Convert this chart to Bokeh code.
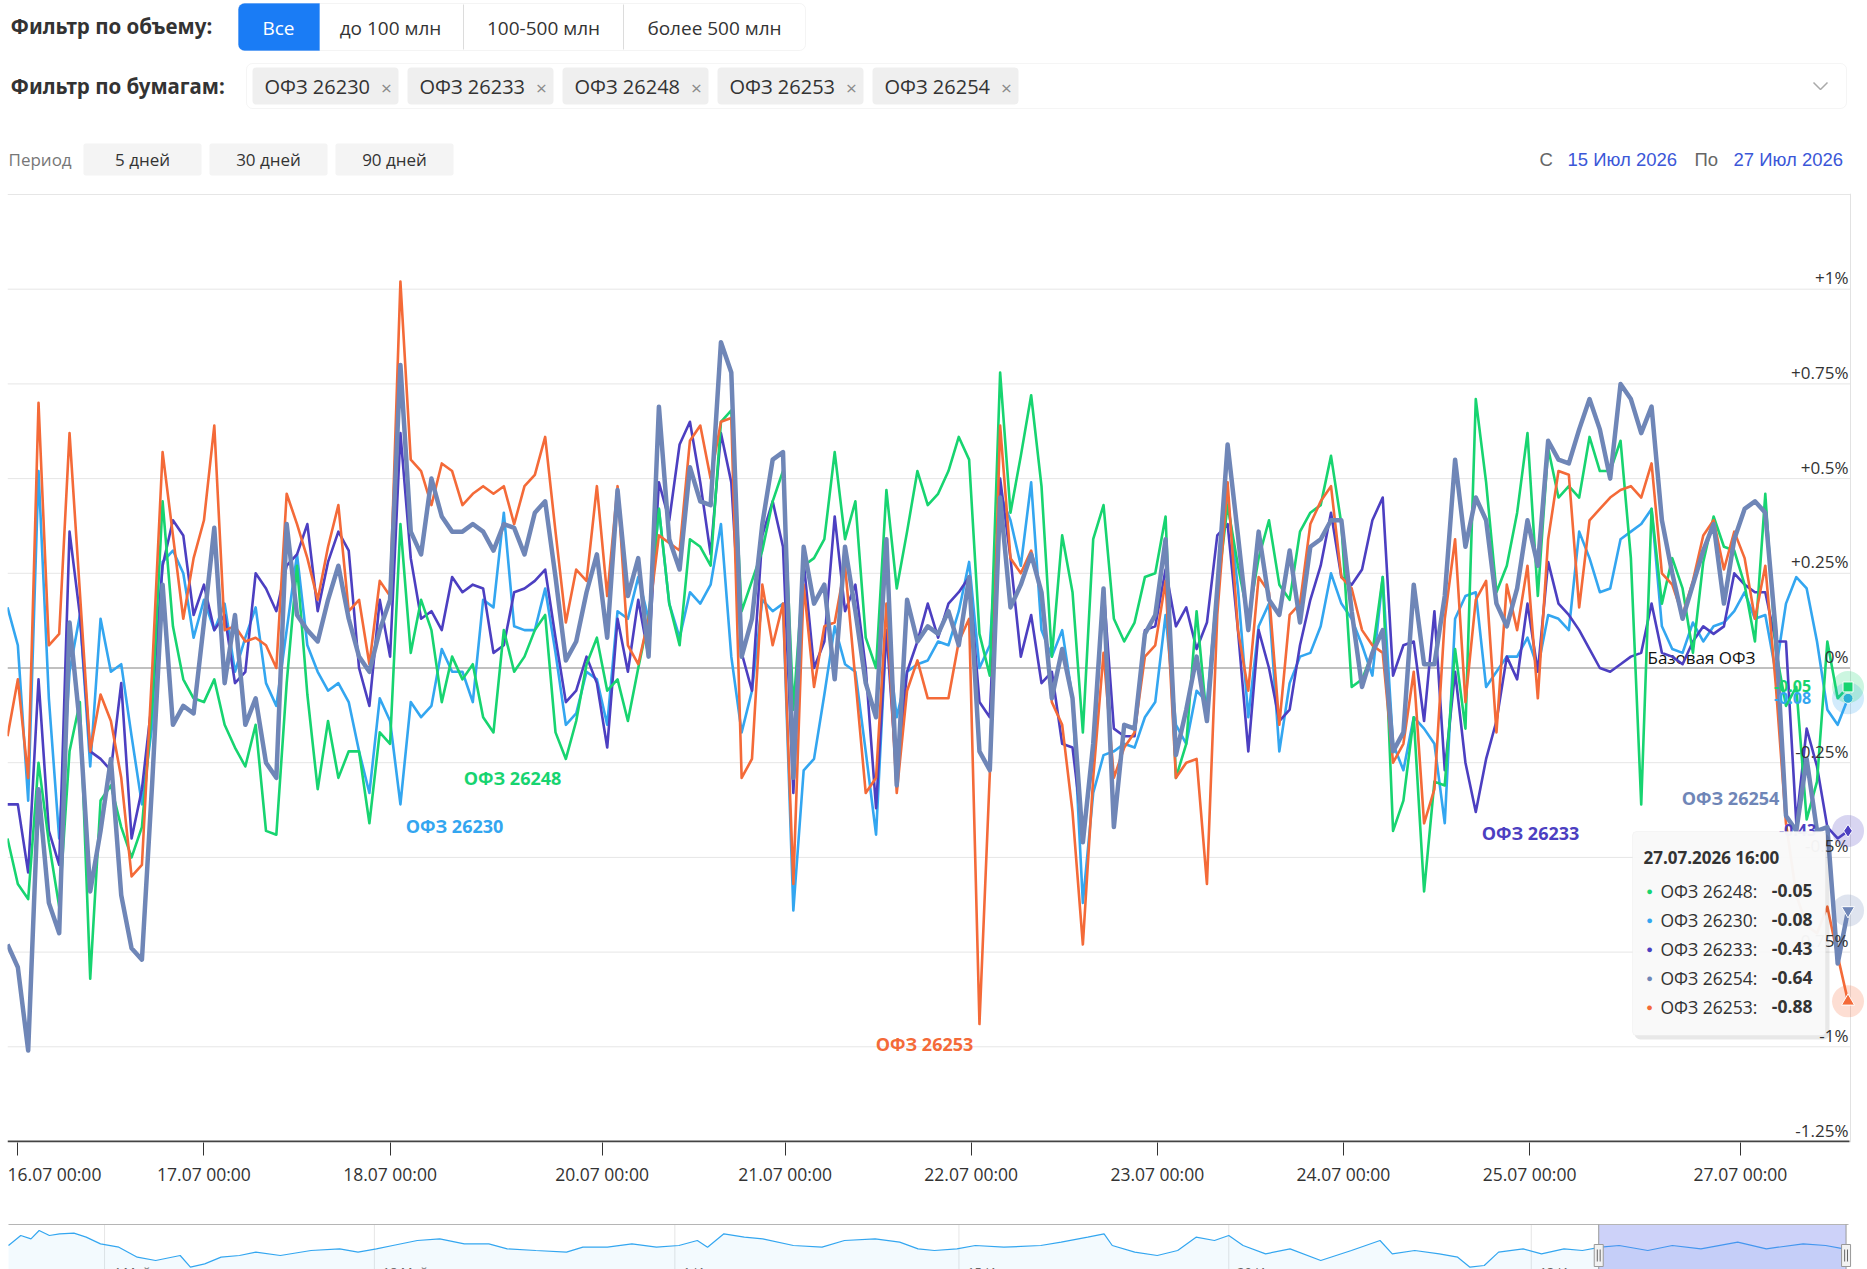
from bokeh.plotting import figure
from bokeh.models import Range1d, BoxAnnotation, Label, FixedTicker, LinearAxis
from bokeh.layouts import column
from bokeh.embed import file_html
from bokeh.resources import INLINE
from bokeh.core.properties import value

# ---------------- data ----------------
volume_filters = ["Все", "до 100 млн", "100-500 млн", "более 500 млн"]
selected_bonds = ["ОФЗ 26230", "ОФЗ 26233", "ОФЗ 26248", "ОФЗ 26253", "ОФЗ 26254"]
period_buttons = ["5 дней", "30 дней", "90 дней"]
date_from = "15 Июл 2026"
date_to = "27 Июл 2026"
tooltip_time = "27.07.2026 16:00"

# ordinal x axis (hourly points, weekends compressed): tick positions in point-index units
tick_idx = [1, 19, 37, 57.5, 75.2, 93.2, 111.2, 129.2, 147.2, 167.6]
tick_labels = ["16.07 00:00", "17.07 00:00", "18.07 00:00", "20.07 00:00", "21.07 00:00",
               "22.07 00:00", "23.07 00:00", "24.07 00:00", "25.07 00:00", "27.07 00:00"]

y_ticks = [1.0, 0.75, 0.5, 0.25, 0.0, -0.25, -0.5, -0.75, -1.0, -1.25]
y_tick_labels = ["+1%", "+0.75%", "+0.5%", "+0.25%", "0%", "-0.25%", "-0.5%", "-0.75%", "-1%", "-1.25%"]

ofz_26230 = [
    0.16, 0.06, -0.35, 0.52, -0.08, -0.45, -0.01, 0.14, -0.26, 0.13,
    -0.01, 0.01, -0.18, -0.36, -0.15, 0.28, 0.31, 0.25, 0.08, 0.18,
    0.10, 0.17, -0.01, 0.08, 0.16, -0.04, -0.10, 0.10, 0.30, 0.06,
    -0.01, -0.06, -0.04, -0.09, -0.22, -0.33, -0.08, -0.14, -0.36, -0.09,
    -0.13, -0.10, 0.05, -0.01, -0.01, -0.09, 0.18, 0.16, 0.41, 0.11,
    0.10, 0.10, 0.21, 0.04, -0.15, -0.12, -0.01, -0.03, -0.15, 0.15,
    0.13, 0.24, 0.13, 0.42, 0.17, 0.08, 0.20, 0.17, 0.22, 0.38,
    0.03, -0.17, -0.06, 0.18, 0.15, 0.17, -0.64, -0.27, -0.24, -0.07,
    0.11, 0.01, -0.01, -0.22, -0.44, 0.10, -0.13, -0.01, 0.01, 0.02,
    0.07, 0.06, 0.15, 0.28, 0.00, 0.06, 0.46, 0.39, 0.27, 0.49,
    0.10, 0.03, 0.10, -0.08, -0.62, -0.33, -0.23, -0.22, -0.20, -0.21,
    -0.13, -0.09, 0.14, -0.15, -0.20, -0.06, -0.09, 0.21, 0.45, 0.21,
    -0.13, 0.11, 0.17, -0.22, -0.04, 0.03, 0.04, 0.11, 0.25, 0.17,
    0.13, 0.06, -0.02, 0.24, -0.20, -0.27, -0.13, -0.16, -0.20, -0.41,
    0.13, 0.19, 0.20, -0.05, -0.01, 0.03, 0.03, 0.08, 0.00, 0.14,
    0.13, 0.10, 0.36, 0.29, 0.20, 0.21, 0.34, 0.36, 0.38, 0.42,
    0.11, 0.05, 0.04, 0.12, 0.07, 0.11, 0.12, 0.15, 0.20, 0.13,
    0.14, -0.01, 0.17, 0.24, 0.21, 0.07, -0.11, -0.15, -0.08]

ofz_26233 = [
    -0.36, -0.36, -0.54, -0.03, -0.43, -0.52, 0.36, 0.14, -0.22, -0.24,
    -0.27, -0.04, -0.45, -0.32, -0.08, 0.27, 0.39, 0.35, 0.14, 0.22,
    0.10, 0.14, -0.04, -0.01, 0.25, 0.21, 0.15, 0.27, 0.30, 0.38,
    0.15, 0.28, 0.36, 0.31, 0.00, -0.10, 0.18, 0.03, 0.62, 0.29,
    0.13, 0.15, 0.10, 0.24, 0.20, 0.22, 0.21, 0.04, 0.06, 0.20,
    0.21, 0.23, 0.26, 0.08, -0.09, -0.06, 0.03, -0.04, -0.21, 0.13,
    -0.01, 0.18, 0.03, 0.49, 0.39, 0.59, 0.65, 0.49, 0.30, 0.62,
    0.49, 0.04, -0.06, 0.35, 0.44, 0.32, -0.33, 0.28, 0.00, 0.07,
    0.40, 0.15, 0.22, 0.00, -0.37, 0.10, -0.29, -0.01, 0.07, 0.17,
    0.08, 0.17, 0.20, 0.24, -0.09, -0.13, 0.50, 0.29, 0.03, 0.14,
    -0.04, -0.01, -0.20, -0.21, -0.44, -0.24, 0.21, -0.16, -0.18, -0.18,
    0.10, 0.11, 0.26, 0.11, 0.16, 0.05, 0.12, 0.35, 0.38, 0.10,
    -0.22, 0.10, 0.00, -0.14, -0.11, 0.06, 0.18, 0.27, 0.41, 0.24,
    0.22, 0.26, 0.39, 0.45, -0.02, 0.06, 0.07, -0.14, 0.15, -0.27,
    -0.01, -0.25, -0.38, -0.24, -0.14, 0.03, -0.03, 0.17, -0.01, 0.28,
    0.17, 0.14, 0.10, 0.05, 0.00, -0.01, 0.01, 0.03, 0.04, 0.17,
    0.04, 0.03, 0.01, 0.07, 0.11, 0.09, 0.11, 0.25, 0.22, 0.20,
    0.20, 0.07, 0.07, -0.41, -0.16, -0.26, -0.42, -0.45, -0.43]

ofz_26248 = [
    -0.45, -0.57, -0.61, -0.25, -0.46, -0.63, -0.22, -0.09, -0.82, -0.35,
    -0.31, -0.42, -0.50, -0.42, -0.10, 0.44, 0.11, -0.03, -0.08, -0.09,
    -0.03, -0.15, -0.21, -0.26, -0.15, -0.43, -0.44, -0.04, 0.27, -0.07,
    -0.32, -0.14, -0.29, -0.22, -0.22, -0.41, -0.17, -0.20, 0.38, 0.04,
    0.18, 0.10, -0.09, 0.03, -0.03, 0.01, -0.13, -0.17, 0.10, -0.01,
    0.03, 0.10, 0.14, -0.17, -0.24, -0.14, 0.01, 0.08, -0.06, -0.03,
    -0.14, 0.00, 0.13, 0.42, 0.17, 0.06, 0.34, 0.32, 0.27, 0.65,
    0.68, 0.15, 0.23, 0.31, 0.44, 0.52, -0.11, 0.27, 0.29, 0.34,
    0.57, 0.34, 0.44, 0.08, 0.00, 0.47, 0.21, 0.36, 0.52, 0.43,
    0.46, 0.52, 0.61, 0.55, 0.09, -0.02, 0.78, 0.41, 0.56, 0.72,
    0.48, 0.03, 0.35, 0.20, -0.17, 0.34, 0.43, 0.13, 0.07, 0.12,
    0.24, 0.25, 0.40, -0.29, -0.20, 0.15, -0.14, 0.20, 0.43, 0.27,
    0.13, 0.29, 0.39, 0.22, 0.18, 0.36, 0.41, 0.43, 0.56, 0.38,
    -0.05, -0.03, 0.04, 0.24, -0.43, -0.35, -0.13, -0.59, -0.30, -0.31,
    0.05, -0.16, 0.71, 0.49, 0.20, 0.27, 0.41, 0.62, 0.19, 0.58,
    0.45, 0.48, 0.45, 0.61, 0.52, 0.52, 0.60, 0.29, -0.36, 0.42,
    0.17, 0.29, 0.21, 0.04, 0.28, 0.40, 0.32, 0.31, 0.22, 0.07,
    0.46, 0.05, -0.10, -0.05, -0.40, -0.30, 0.07, -0.08, -0.05]

ofz_26253 = [
    -0.18, -0.03, -0.29, 0.70, 0.06, 0.09, 0.62, 0.20, -0.22, -0.07,
    -0.14, -0.29, -0.55, -0.52, 0.00, 0.57, 0.35, 0.13, 0.29, 0.39,
    0.64, 0.10, 0.11, 0.07, 0.08, 0.06, 0.00, 0.46, 0.38, 0.29,
    0.18, 0.32, 0.43, 0.15, 0.18, 0.01, 0.23, 0.19, 1.02, 0.55,
    0.52, 0.43, 0.54, 0.52, 0.43, 0.46, 0.48, 0.46, 0.48, 0.38,
    0.48, 0.51, 0.61, 0.36, 0.12, 0.26, 0.23, 0.48, 0.19, 0.48,
    0.06, 0.01, 0.13, 0.35, 0.33, 0.31, 0.60, 0.64, 0.50, 0.65,
    0.66, -0.29, -0.24, 0.22, 0.06, 0.17, -0.57, 0.22, -0.05, 0.11,
    0.12, 0.27, -0.03, -0.33, -0.29, 0.17, -0.33, -0.06, 0.02, -0.08,
    -0.08, -0.08, 0.07, 0.13, -0.94, -0.28, 0.64, 0.29, 0.25, 0.31,
    0.20, -0.09, -0.15, -0.38, -0.73, -0.29, 0.04, -0.29, -0.21, -0.17,
    0.03, 0.06, 0.23, -0.29, -0.25, -0.24, -0.57, 0.14, 0.49, 0.10,
    -0.06, 0.24, 0.20, -0.15, 0.14, 0.17, 0.38, 0.44, 0.48, 0.24,
    0.21, 0.10, 0.06, 0.04, -0.25, -0.20, -0.01, -0.41, -0.32, 0.13,
    0.34, -0.09, 0.18, 0.23, -0.17, 0.22, 0.10, 0.27, -0.08, 0.34,
    0.52, 0.51, 0.16, 0.39, 0.42, 0.45, 0.47, 0.48, 0.45, 0.54,
    0.25, 0.22, 0.14, 0.23, 0.35, 0.39, 0.26, 0.36, 0.29, 0.13,
    0.27, -0.04, -0.41, -0.60, -0.68, -0.70, -0.63, -0.76, -0.88]

ofz_26254 = [
    -0.73, -0.79, -1.01, -0.32, -0.62, -0.70, 0.12, -0.15, -0.59, -0.43,
    -0.24, -0.60, -0.74, -0.77, -0.30, 0.22, -0.15, -0.10, -0.12, 0.12,
    0.37, -0.04, 0.14, -0.15, -0.08, -0.25, -0.29, 0.38, 0.14, 0.10,
    0.07, 0.18, 0.27, 0.13, 0.03, -0.01, 0.10, 0.18, 0.80, 0.36,
    0.30, 0.50, 0.40, 0.36, 0.36, 0.38, 0.36, 0.31, 0.38, 0.37,
    0.30, 0.41, 0.44, 0.24, 0.02, 0.07, 0.20, 0.30, 0.08, 0.47,
    0.19, 0.29, 0.03, 0.69, 0.34, 0.26, 0.53, 0.44, 0.43, 0.86,
    0.78, 0.03, 0.13, 0.38, 0.55, 0.57, -0.29, 0.32, 0.17, 0.22,
    -0.03, 0.32, 0.15, -0.04, -0.13, 0.34, -0.31, 0.18, 0.07, 0.11,
    0.09, 0.15, 0.06, 0.24, -0.22, -0.27, 0.45, 0.16, 0.22, 0.30,
    0.20, -0.08, 0.05, -0.08, -0.46, -0.20, 0.21, -0.42, -0.15, -0.16,
    0.09, 0.14, 0.34, -0.23, -0.11, 0.03, -0.14, 0.21, 0.59, 0.35,
    0.10, 0.36, 0.18, 0.14, 0.31, 0.12, 0.32, 0.34, 0.39, 0.39,
    0.15, -0.05, 0.04, 0.10, -0.22, -0.17, 0.22, 0.01, 0.01, 0.19,
    0.55, 0.32, 0.45, 0.39, 0.17, 0.11, 0.21, 0.39, 0.27, 0.60,
    0.55, 0.54, 0.63, 0.71, 0.63, 0.50, 0.75, 0.71, 0.62, 0.69,
    0.39, 0.25, 0.13, 0.22, 0.31, 0.38, 0.17, 0.34, 0.42, 0.44,
    0.41, 0.10, -0.39, -0.43, -0.24, -0.43, -0.42, -0.78, -0.64]

# navigator (90 days, ОФЗ 26230 history, arbitrary units)
nav_day = [0.0, 0.6, 1.1, 1.5, 2.0, 2.5, 3.2, 3.8, 4.5, 5.4,
           6.3, 7.2, 8.4, 8.9, 9.6, 10.4, 11.3, 12.1, 13.3, 14.8,
           16.2, 17.1, 18.0, 18.8, 20.0, 21.1, 22.3, 23.5, 24.4, 25.8,
           27.3, 28.1, 29.3, 30.5, 31.7, 32.8, 33.7, 34.2, 35.0, 36.0,
           36.9, 38.4, 39.8, 40.9, 42.4, 43.6, 44.5, 45.3, 46.4, 47.3,
           48.7, 50.5, 51.5, 52.8, 53.6, 54.0, 55.1, 56.2, 57.2, 58.1,
           59.0, 59.7, 60.4, 61.5, 62.7, 64.2, 65.7, 67.1, 67.7, 68.8,
           70.0, 70.9, 71.5, 72.2, 72.9, 74.1, 75.0, 76.1, 77.0, 77.9,
           78.8, 80.2, 81.4, 82.8, 84.6, 86.0, 87.8, 88.9, 89.8]
nav_val = [0.75, 1.05, 0.95, 1.20, 1.05, 1.10, 1.12, 1.00, 0.80, 0.70,
           0.40, 0.30, 0.45, 0.10, 0.20, 0.40, 0.45, 0.55, 0.45, 0.60,
           0.65, 0.55, 0.65, 0.75, 0.90, 0.95, 0.80, 0.80, 0.65, 0.60,
           0.55, 0.70, 0.70, 0.80, 0.70, 0.75, 0.90, 0.70, 1.10, 1.00,
           0.95, 0.75, 0.70, 0.90, 0.95, 0.85, 0.65, 0.60, 0.65, 0.75,
           0.70, 0.75, 0.85, 1.00, 1.10, 0.75, 0.55, 0.45, 0.60, 1.00,
           0.90, 1.05, 0.75, 0.50, 0.65, 0.30, 0.60, 0.90, 0.50, 0.60,
           0.50, 0.40, 0.10, 0.15, 0.55, 0.65, 0.50, 0.65, 0.60, 0.70,
           0.75, 0.60, 0.75, 0.65, 0.85, 0.65, 0.80, 0.75, 0.65]
nav_tick_days = [4.7, 17.9, 32.6, 46.5, 59.7, 74.5]
nav_tick_labels = ["4 Май", "18 Май", "1 Июн", "15 Июн", "29 Июн", "13 Июл"]
nav_sel_from, nav_sel_to = 77.8, 89.9

# ---------------- styles ----------------
W = 1867
FONT = "Open Sans"
colors = {"ОФЗ 26230": "#33a6f0", "ОФЗ 26233": "#4c3fc1", "ОФЗ 26248": "#17d470",
          "ОФЗ 26253": "#f46a38", "ОФЗ 26254": "#6f86b7"}
series = {"ОФЗ 26230": ofz_26230, "ОФЗ 26233": ofz_26233, "ОФЗ 26248": ofz_26248,
          "ОФЗ 26253": ofz_26253, "ОФЗ 26254": ofz_26254}
markers = {"ОФЗ 26230": "circle", "ОФЗ 26233": "diamond", "ОФЗ 26248": "square",
           "ОФЗ 26253": "triangle", "ОФЗ 26254": "inverted_triangle"}
FRAME_LEFT = 7   # all stacked figures share this frame left edge (column aligns frames)


def T(fig, xs, ys, texts, size, color, bold=False, align="left", baseline="middle", font=FONT, **kw):
    return fig.text(x=xs, y=ys, text=texts, text_font=value(font), text_font_size=f"{size}px",
                    text_color=color, text_align=align, text_baseline=baseline,
                    text_font_style="bold" if bold else "normal", **kw)


# ---------------- header ----------------
hdr = figure(width=W, height=190, x_range=Range1d(FRAME_LEFT, W), y_range=Range1d(190, 0),
             x_axis_type=None, y_axis_type=None, output_backend="svg", toolbar_location=None,
             min_border_left=FRAME_LEFT, min_border_right=0, min_border_top=0, min_border_bottom=0,
             outline_line_color=None)
hdr.grid.visible = False


def box(fig, l, r, t, b, fill, line=None, radius=0, alpha=1.0):
    fig.add_layout(BoxAnnotation(left=l, right=r, top=t, bottom=b, fill_color=fill, fill_alpha=alpha,
                                 line_color=line, line_width=1, border_radius=radius, level="underlay"))


T(hdr, [10], [25], ["Фильтр по объему:"], 20.5, "#333333", bold=True, font="Noto Sans")
box(hdr, 238, 805, 3, 50, "white", "#dcdcdc", 6)
box(hdr, 238, 319, 3, 50, "#1a7cf5", "#1a7cf5", (6, 0, 0, 6))
hdr.segment(x0=[463, 623], y0=[4, 4], x1=[463, 623], y1=[49, 49], line_color="#dcdcdc")
btn_centers = [278, 390, 543, 714]
for i, (cx, lab) in enumerate(zip(btn_centers, volume_filters)):
    T(hdr, [cx], [27], [lab], 19, "white" if i == 0 else "#333333", align="center")

T(hdr, [10], [85], ["Фильтр по бумагам:"], 20.5, "#333333", bold=True, font="Noto Sans")
box(hdr, 246, 1846, 63, 108, "white", "#dedede", 6)
for i, name in enumerate(selected_bonds):
    left = 252 + 155 * i
    box(hdr, left, left + 146, 67, 104, "#efefef", None, 4)
    T(hdr, [left + 12], [86], [name], 20, "#333333")
    T(hdr, [left + 134], [87], ["×"], 19, "#8a8a8a", align="center")
hdr.line(x=[1813, 1820, 1827], y=[82, 89, 82], line_color="#aaaaaa", line_width=1.5)

T(hdr, [8], [159], ["Период"], 17, "#777777")
for i, lab in enumerate(period_buttons):
    left = 83 + 126 * i
    box(hdr, left, left + 118, 143, 175, "#f4f4f4", None, 2)
    T(hdr, [left + 59], [159], [lab], 17, "#333333", align="center")
T(hdr, [1539], [159], ["С"], 18.5, "#666666", font="Liberation Sans")
T(hdr, [1567], [159], [date_from], 18.5, "#3b57d8", font="Liberation Sans")
T(hdr, [1694], [159], ["По"], 18.5, "#666666", font="Liberation Sans")
T(hdr, [1733], [159], [date_to], 18.5, "#3b57d8", font="Liberation Sans")

# ---------------- main chart ----------------
def xi(px):   # page pixel -> ordinal index (for overlay placement only)
    return (px - 7.0) / 10.34


def yv(py):   # page pixel -> percent (for overlay placement only)
    return (667.5 - py) / 378.8


p = figure(width=W, height=1025, x_range=Range1d(xi(FRAME_LEFT), xi(W)), y_range=Range1d(yv(1142), yv(193)),
           y_axis_location=None, output_backend="svg", toolbar_location=None,
           min_border_left=FRAME_LEFT, min_border_right=0, min_border_top=3, min_border_bottom=73,
           outline_line_color=None)
p.grid.visible = False

grid_levels = [1.25] + [t for t in y_ticks if t not in (0.0, -1.25)]
p.segment(x0=0, x1=xi(1850), y0=grid_levels, y1=grid_levels, line_color="#e6e6e6", line_width=1)
p.segment(x0=0, x1=xi(1850), y0=0, y1=0, line_color="#ababab", line_width=1.3)
p.segment(x0=0, x1=xi(1849), y0=-1.25, y1=-1.25, line_color="#444444", line_width=2)
p.segment(x0=xi(1850), x1=xi(1850), y0=yv(193), y1=yv(1142), line_color="#e2e2e2", line_width=1)

T(p, [xi(1647)], [yv(657)], ["Базовая ОФЗ"], 17, "#111111")

idx = list(range(len(ofz_26230)))
for name in selected_bonds:
    lw = 4.5 if name == "ОФЗ 26254" else 2.6
    p.line(idx, series[name], line_color=colors[name], line_width=lw, line_join="round")

# series name labels
lab_pos = {"ОФЗ 26248": (512, 777), "ОФЗ 26230": (454, 825), "ОФЗ 26253": (924, 1043),
           "ОФЗ 26233": (1530, 832), "ОФЗ 26254": (1730, 797)}
for name, (px, py) in lab_pos.items():
    T(p, [xi(px)], [yv(py)], [name], 18, colors[name], bold=True, align="center")

# end value labels
for name, (px, py) in {"ОФЗ 26248": (1792, 685), "ОФЗ 26230": (1792, 697),
                       "ОФЗ 26233": (1797, 829)}.items():
    T(p, [xi(px)], [yv(py)], [f"{series[name][-1]:.2f}"], 16, colors[name], bold=True, align="center")

# y labels
T(p, [xi(1848)] * len(y_ticks), y_ticks, y_tick_labels, 17, "#333333", align="right", baseline="bottom")

# last-point markers with halos
last = idx[-1]
for name in selected_bonds:
    v = series[name][-1]
    p.scatter([last], [v], marker="circle", size=32, fill_color=colors[name], fill_alpha=0.22, line_alpha=0)
    sz = 13 if markers[name] in ("diamond", "triangle", "inverted_triangle") else 10
    p.scatter([last], [v], marker=markers[name], size=sz, fill_color=colors[name], line_color="white",
              line_width=1)

# x axis: tick marks (first axis) + labels (second axis; first label kept inside the page)
p.xaxis.ticker = FixedTicker(ticks=tick_idx)
p.xaxis.major_label_overrides = {t: "" for t in tick_idx}
p.xaxis.major_label_text_font_size = "1px"
p.xaxis.major_label_standoff = 0
p.xaxis.axis_line_color = None
p.xaxis.major_tick_line_color = "#333333"
p.xaxis.major_tick_out = 13
p.xaxis.major_tick_in = 0
p.xaxis.minor_tick_line_color = None

label_pos = [xi(54)] + tick_idx[1:]
lab_axis = LinearAxis(ticker=FixedTicker(ticks=label_pos),
                      major_label_overrides={t: lab for t, lab in zip(label_pos, tick_labels)},
                      axis_line_color=None, major_tick_line_color=None, minor_tick_line_color=None,
                      major_tick_out=0, major_tick_in=0, major_label_standoff=6,
                      major_label_text_font=FONT, major_label_text_font_size="17.5px",
                      major_label_text_color="#333333")
p.add_layout(lab_axis, "below")

# tooltip
p.add_layout(BoxAnnotation(left=xi(1634), right=xi(1829), top=yv(833), bottom=yv(1039), fill_color="black",
                           fill_alpha=0.09, line_color=None, border_radius=6))
p.add_layout(BoxAnnotation(left=xi(1632), right=xi(1825), top=yv(831), bottom=yv(1035), fill_color="#f9f9f9",
                           fill_alpha=0.97, line_color="#e4e4e4", border_radius=4))
p.add_layout(Label(x=xi(1643), y=yv(857), text=tooltip_time, text_font=FONT, text_font_style="bold",
                   text_font_size="17px", text_color="#333333", text_baseline="middle"))
order = sorted(selected_bonds, key=lambda n: -series[n][-1])
for k, name in enumerate(order):
    py = 890 + 29 * k
    p.add_layout(Label(x=xi(1649), y=yv(py), text="●", text_font=FONT, text_font_size="11px",
                       text_color=colors[name], text_align="center", text_baseline="middle"))
    p.add_layout(Label(x=xi(1660), y=yv(py), text=f"{name}: ", text_font=FONT, text_font_size="17.5px",
                       text_color="#333333", text_baseline="middle"))
    p.add_layout(Label(x=xi(1812), y=yv(py), text=f"{series[name][-1]:.2f}", text_font=FONT,
                       text_font_style="bold", text_font_size="17.5px", text_color="#333333",
                       text_align="right", text_baseline="middle"))

# ---------------- navigator ----------------
def nd(px):
    return (px - 8.0) / 20.44


def nvv(py):
    return (450 - 3 * (py - 1120)) / 100.0


nav = figure(width=W, height=54, x_range=Range1d(nd(FRAME_LEFT), nd(W)), y_range=Range1d(nvv(1269), nvv(1223)),
             x_axis_type=None, y_axis_type=None, output_backend="svg", toolbar_location=None,
             min_border_left=FRAME_LEFT, min_border_right=0, min_border_top=8, min_border_bottom=0,
             outline_line_color=None)
nav.grid.visible = False
nav.segment(x0=nav_tick_days, x1=nav_tick_days, y0=nvv(1269), y1=nvv(1224), line_color="#e6e6e6")
nav.varea(x=nav_day, y1=nvv(1269), y2=nav_val, fill_color="#33a6f0", fill_alpha=0.06)
nav.line(nav_day, nav_val, line_color="#33a6f0", line_width=1.2)
T(nav, [d + 0.4 for d in nav_tick_days], [nvv(1262)] * len(nav_tick_days), nav_tick_labels, 13, "#666666",
  baseline="top")
nav.quad(left=nav_sel_from, right=nav_sel_to, bottom=nvv(1269), top=nvv(1224), fill_color="#6677ee",
         fill_alpha=0.33, line_color=None)
nav.segment(x0=nd(8), x1=nd(1848), y0=nvv(1224), y1=nvv(1224), line_color="#b5b5b5", line_width=1)
nav.segment(x0=[nav_sel_from, nav_sel_to], x1=[nav_sel_from, nav_sel_to], y0=nvv(1269), y1=nvv(1224),
            line_color="#999999")
nav.rect(x=[nav_sel_from, nav_sel_to], y=nvv(1255), width=9, height=22, width_units="screen",
         height_units="screen", fill_color="#f2f2f2", line_color="#999999")
for hx in (nav_sel_from, nav_sel_to):
    nav.segment(x0=[hx - 0.07, hx + 0.07], x1=[hx - 0.07, hx + 0.07], y0=nvv(1249), y1=nvv(1261),
                line_color="#666666")

layout = column(hdr, p, nav, spacing=0)
open("out.html", "w").write(file_html(layout, INLINE))
